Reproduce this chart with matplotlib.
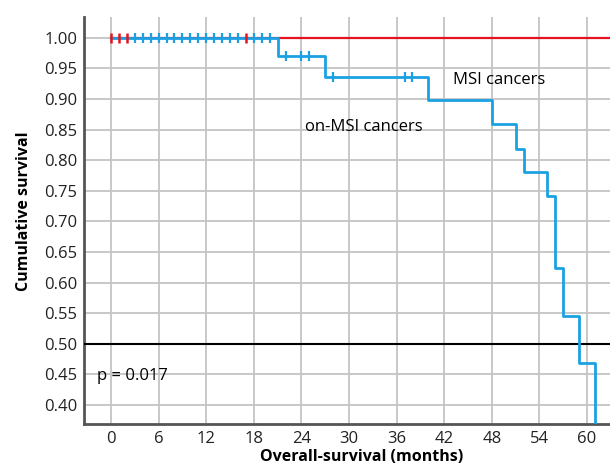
import numpy as np
import matplotlib
matplotlib.use("Agg")
import matplotlib.pyplot as plt

plt.rcParams['font.family'] = ['Open Sans', 'DejaVu Sans']

# non-MSI cancers: step times (months) and survival after each step
nonmsi_t = [0, 21, 27, 40, 48, 51, 52, 55, 56, 57, 59, 61]
nonmsi_s = [1.0, 0.971, 0.936, 0.898, 0.859, 0.819, 0.781, 0.742, 0.624, 0.546, 0.468, 0.0]
nonmsi_cens_t = [3, 4, 5, 6, 7, 8, 9, 10, 11, 12, 13, 14, 15, 16, 18, 19, 20, 22, 24, 25, 28, 37, 38]

# MSI cancers: no events
msi_t = [0, 70]
msi_s = [1.0, 1.0]
msi_cens_t = [0, 1, 2, 17]

blue = '#1ba1e2'
red = '#e5131d'

fig = plt.figure(figsize=(6.1, 4.67), dpi=100)
ax = fig.add_axes([84/610, 1 - 424/467, 1 - 84/610, (424 - 17)/467])

ax.axhline(0.5, color='black', lw=1.5, zorder=3)
ax.plot(msi_t, msi_s, color=red, lw=1.6, zorder=4)
ax.plot(nonmsi_t, nonmsi_s, color=blue, lw=2, drawstyle='steps-post', zorder=5)


def surv_at(t):
    i = np.searchsorted(nonmsi_t, t, side='right') - 1
    return nonmsi_s[i]


ax.plot(nonmsi_cens_t, [surv_at(t) for t in nonmsi_cens_t], ls='none', marker='|',
        ms=6.5, mew=1.6, color=blue, zorder=6)
ax.plot(msi_cens_t, [1.0] * len(msi_cens_t), ls='none', marker='|',
        ms=6.5, mew=1.8, color=red, zorder=7)

ax.set_xlim(-3.4, 62.9)
ax.set_ylim(0.369, 1.034)
ax.set_xticks(np.arange(0, 61, 6))
ax.set_yticks(np.arange(0.40, 1.001, 0.05))
ax.set_yticklabels([f'{v:.2f}' for v in np.arange(0.40, 1.001, 0.05)])
ax.grid(True, color='#c4c4c4', lw=1.3)
ax.set_axisbelow(True)
ax.tick_params(length=0, labelsize=12, colors='#222222', pad=5)
for s in ['top', 'right']:
    ax.spines[s].set_visible(False)
for s in ['left', 'bottom']:
    ax.spines[s].set_color('#555555')
    ax.spines[s].set_linewidth(2)

ax.text(43.1, 0.931, 'MSI cancers', fontsize=12, va='center', ha='left')
ax.text(24.4, 0.855, 'on-MSI cancers', fontsize=12, va='center', ha='left')
ax.text(-1.8, 0.447, 'p = 0.017', fontsize=12, va='center', ha='left')

fig.text(362/610, 1 - 457/467, 'Overall-survival (months)', fontsize=11.5,
         fontweight='bold', ha='center', va='center')
fig.text(24/610, 1 - 211/467, 'Cumulative survival', fontsize=11.5,
         fontweight='bold', ha='center', va='center', rotation=90)

fig.savefig('out.png', dpi=100)
